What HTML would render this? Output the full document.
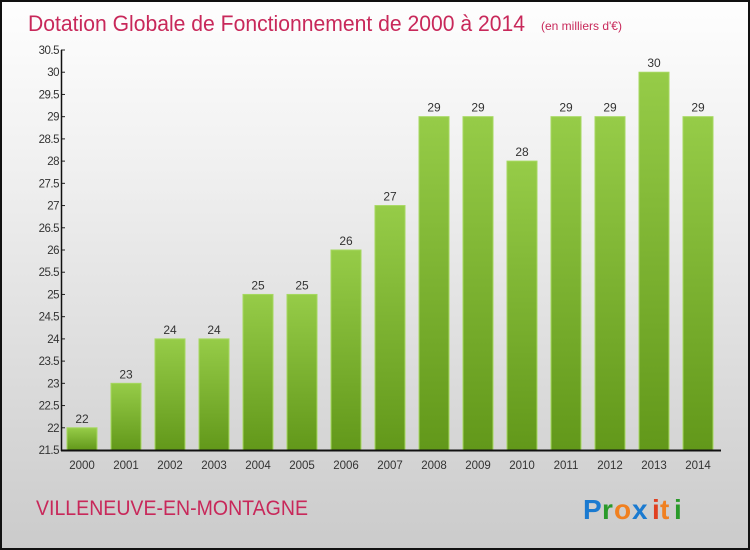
<!DOCTYPE html>
<html><head><meta charset="utf-8"><style>
body{margin:0;}
#c{width:750px;height:550px;position:relative;box-sizing:border-box;border:2px solid #111;background:linear-gradient(#fefefe,#f0f0f0 30%,#cbcbcb);font-family:"Liberation Sans",sans-serif;overflow:hidden}
</style></head><body>
<div id="c">
<svg width="746" height="546" style="position:absolute;left:0;top:0" id="svg">
<defs><linearGradient id="g" x1="0" y1="0" x2="0" y2="1"><stop offset="0" stop-color="#96cc48"/><stop offset="1" stop-color="#62981a"/></linearGradient></defs>
<text x="26" y="29" font-size="22" fill="#c8285a" textLength="497" lengthAdjust="spacingAndGlyphs">Dotation Globale de Fonctionnement de 2000 à 2014</text>
<text x="539" y="28" font-size="12" fill="#c8285a">(en milliers d'€)</text>
<text x="34" y="513" font-size="21" fill="#c8285a" textLength="272" lengthAdjust="spacingAndGlyphs">VILLENEUVE-EN-MONTAGNE</text>
<g font-size="28" font-weight="bold" font-family="Liberation Sans, sans-serif"><text x="581" y="517" fill="#1a7ad0">P</text><text x="600" y="517" fill="#2a9a2a">r</text><text x="612" y="517" fill="#f08020">o</text><text x="630" y="517" fill="#1a7ad0">x</text><text x="650" y="517" fill="#e04020">i</text><text x="658" y="517" fill="#f08020">t</text><text x="672" y="517" fill="#2a9a2a">i</text></g>
<g id="plot"></g>
</svg></div>
<script>
const years=["2000","2001","2002","2003","2004","2005","2006","2007","2008","2009","2010","2011","2012","2013","2014"];
const values=[22,23,24,24,25,25,26,27,29,29,28,29,29,30,29];
const ticks=[21.5,22,22.5,23,23.5,24,24.5,25,25.5,26,26.5,27,27.5,28,28.5,29,29.5,30,30.5];
const ns="http://www.w3.org/2000/svg",g=document.getElementById('plot');
const y=v=>448-(v-21.5)*400/9, x=i=>80+i*44;
function mk(t,a){const e=document.createElementNS(ns,t);for(const k in a)e.setAttribute(k,a[k]);g.appendChild(e);return e;}
years.forEach((yr,i)=>{
 const r=mk('rect',{x:x(i)-15,y:y(values[i]),width:30,height:448-y(values[i]),fill:'url(#g)',stroke:'#a6d860','stroke-width':1});
 
 
 const l=mk('text',{x:x(i),y:y(values[i])-5,'text-anchor':'middle','font-size':12,fill:'#333'});l.textContent=values[i];
 
 
 const t=mk('text',{x:x(i),y:467,'text-anchor':'middle','font-size':11.5,fill:'#333'});t.textContent=yr;
 
 
});
ticks.forEach(v=>{
 mk('line',{x1:59,x2:63,y1:y(v),y2:y(v),stroke:'#222'});
 const t=mk('text',{x:57,y:y(v)+4,'text-anchor':'end','font-size':11.5,fill:'#333','letter-spacing':'-0.5'});t.textContent=v;
 
 
});
const ya=mk('line',{x1:59.5,x2:59.5,y1:y(30.5),y2:449,stroke:'#111','stroke-width':1.5});


const xa=mk('line',{x1:59,x2:719,y1:448.5,y2:448.5,stroke:'#111','stroke-width':2});


</script>
</body></html>
